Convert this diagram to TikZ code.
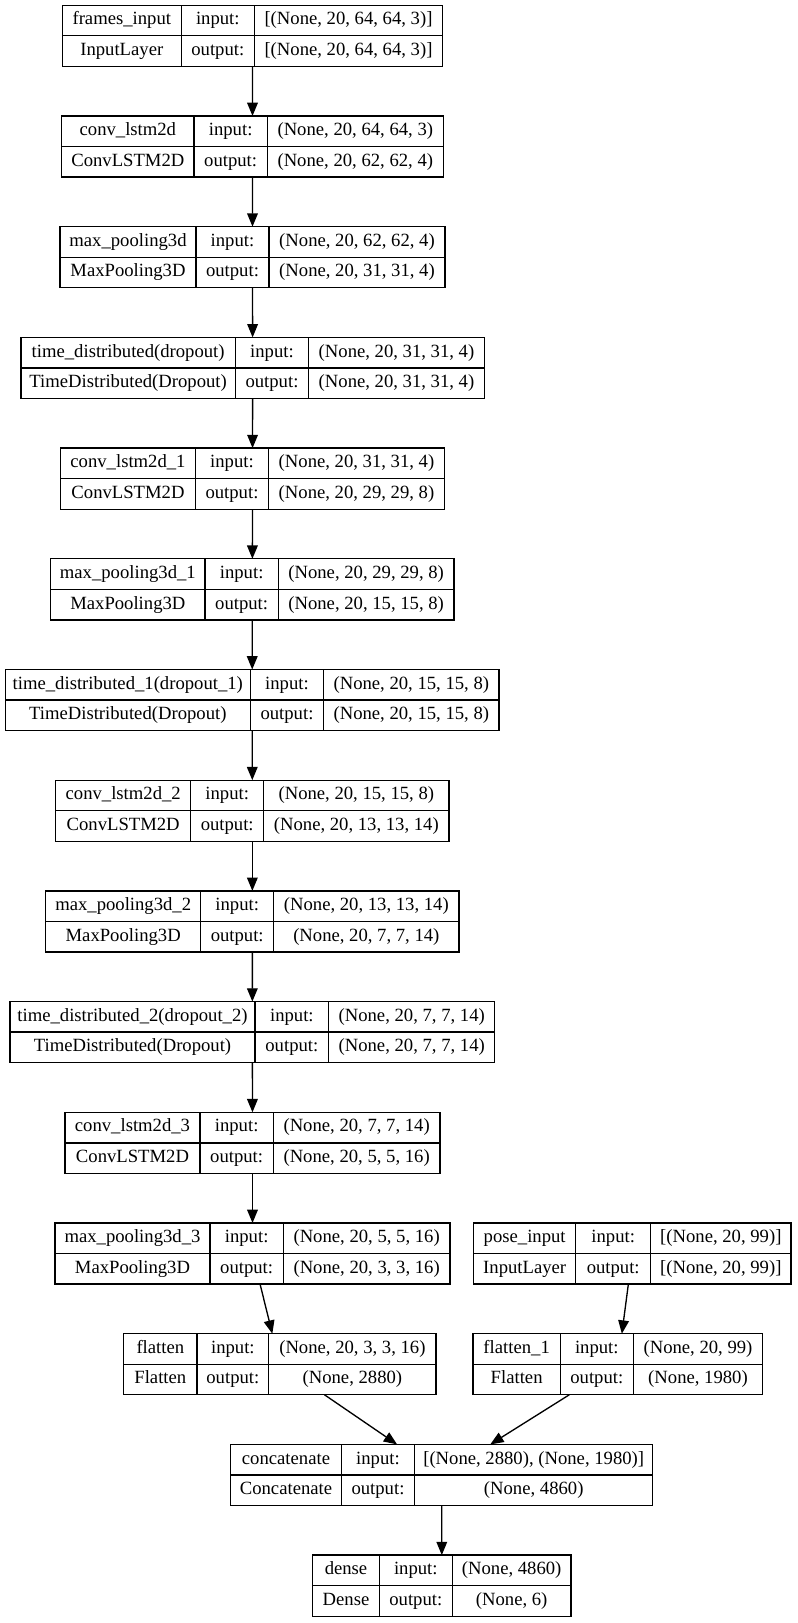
\documentclass[tikz,border=0pt]{standalone}
\usepackage{fontspec}
\setmainfont{Liberation Serif}
\usetikzlibrary{positioning,fit,arrows.meta}

% one layer: id, top left corner, three column widths (px), name, type, input shape, output shape
\newcommand{\layer}[9]{%
    \node[cell, anchor=north west, minimum width=#3*0.75pt] (#1-n) at #2 {#6};
    \node[cell, minimum width=#3*0.75pt] (#1-t) [below=0pt of #1-n] {#7};
    \node[cell, minimum width=#4*0.75pt] (#1-i) [right=0pt of #1-n] {input:};
    \node[cell, minimum width=#4*0.75pt] (#1-o) [right=0pt of #1-t] {output:};
    \node[cell, minimum width=#5*0.75pt] (#1-is) [right=0pt of #1-i] {#8};
    \node[cell, minimum width=#5*0.75pt] (#1-os) [right=0pt of #1-o] {#9};
    \node[fit=(#1-n)(#1-os), inner sep=0pt, outer sep=0pt] (#1) {};
}

\begin{document}
\begin{tikzpicture}[x=0.75pt,y=-0.75pt,->,>={Triangle[length=10pt,width=8pt]},line width=1pt,
    cell/.style={draw, rectangle, inner sep=0pt, outer sep=0pt, minimum height=22.9pt,
        text height=9.6pt, text depth=3pt, font=\fontsize{14}{16}\selectfont}]

    \useasboundingbox (0,0) rectangle (797,1623);

    \layer{frames}{(62.3,5.3)}{119}{73}{188.4}{frames\_input}{InputLayer}{[(None, 20, 64, 64, 3)]}{[(None, 20, 64, 64, 3)]}
    \layer{conv}{(61.7,116)}{132.3}{73.3}{176}{conv\_lstm2d}{ConvLSTM2D}{(None, 20, 64, 64, 3)}{(None, 20, 62, 62, 4)}
    \layer{pool}{(60,226.7)}{136}{73}{176}{max\_pooling3d}{MaxPooling3D}{(None, 20, 62, 62, 4)}{(None, 20, 31, 31, 4)}
    \layer{drop}{(21,337.4)}{214.3}{73.4}{175.6}{time\_distributed(dropout)}{TimeDistributed(Dropout)}{(None, 20, 31, 31, 4)}{(None, 20, 31, 31, 4)}
    \layer{conv1}{(60.7,448.1)}{134.6}{73.4}{175.6}{conv\_lstm2d\_1}{ConvLSTM2D}{(None, 20, 31, 31, 4)}{(None, 20, 29, 29, 8)}
    \layer{pool1}{(50.7,558.8)}{154.3}{73.3}{175.7}{max\_pooling3d\_1}{MaxPooling3D}{(None, 20, 29, 29, 8)}{(None, 20, 15, 15, 8)}
    \layer{drop1}{(5.3,669.5)}{245}{73.4}{175.3}{time\_distributed\_1(dropout\_1)}{TimeDistributed(Dropout)}{(None, 20, 15, 15, 8)}{(None, 20, 15, 15, 8)}
    \layer{conv2}{(55.7,780.2)}{135}{73}{185.3}{conv\_lstm2d\_2}{ConvLSTM2D}{(None, 20, 15, 15, 8)}{(None, 20, 13, 13, 14)}
    \layer{pool2}{(45.7,890.9)}{155}{73}{185.3}{max\_pooling3d\_2}{MaxPooling3D}{(None, 20, 13, 13, 14)}{(None, 20, 7, 7, 14)}
    \layer{drop2}{(10,1001.6)}{245}{73.7}{166}{time\_distributed\_2(dropout\_2)}{TimeDistributed(Dropout)}{(None, 20, 7, 7, 14)}{(None, 20, 7, 7, 14)}
    \layer{conv3}{(65,1112.3)}{135}{73.3}{166.7}{conv\_lstm2d\_3}{ConvLSTM2D}{(None, 20, 7, 7, 14)}{(None, 20, 5, 5, 16)}
    \layer{pool3}{(55,1223)}{155}{73.3}{166.7}{max\_pooling3d\_3}{MaxPooling3D}{(None, 20, 5, 5, 16)}{(None, 20, 3, 3, 16)}
    \layer{pose}{(473.7,1223)}{102}{75}{140.3}{pose\_input}{InputLayer}{[(None, 20, 99)]}{[(None, 20, 99)]}
    \layer{flat}{(123.7,1333.7)}{73.3}{71.7}{167.4}{flatten}{Flatten}{(None, 20, 3, 3, 16)}{(None, 2880)}
    \layer{flat1}{(473,1333.7)}{87.3}{73}{129.4}{flatten\_1}{Flatten}{(None, 20, 99)}{(None, 1980)}
    \layer{concat}{(230.7,1444.4)}{110.6}{73.4}{238}{concatenate}{Concatenate}{[(None, 2880), (None, 1980)]}{(None, 4860)}
    \layer{dense}{(312.7,1555.1)}{66.6}{73}{118.7}{dense}{Dense}{(None, 4860)}{(None, 6)}

    \draw (frames) to (conv);
    \draw (conv) to (pool);
    \draw (pool) to (drop);
    \draw (drop) to (conv1);
    \draw (conv1) to (pool1);
    \draw (pool1) to (drop1);
    \draw (drop1) to (conv2);
    \draw (conv2) to (pool2);
    \draw (pool2) to (drop2);
    \draw (drop2) to (conv3);
    \draw (conv3) to (pool3);
    \draw (pool3) to (flat);
    \draw (pose) to (flat1);
    \draw (flat) to (concat);
    \draw (flat1) to (concat);
    \draw (concat) to (dense);

\end{tikzpicture}
\end{document}
